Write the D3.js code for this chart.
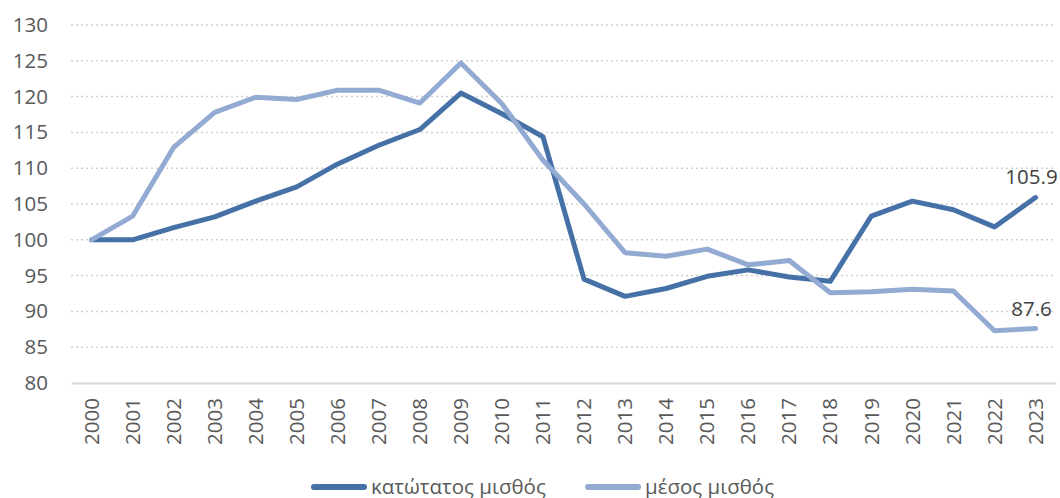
<!doctype html>
<html>
  <head>
    <meta charset="utf-8">
    <script src="https://cdnjs.cloudflare.com/ajax/libs/d3/7.8.5/d3.min.js"></script>
    <style>
      body { margin: 0; background: #fff; }
      svg text { font-family: "Open Sans", "Noto Sans", sans-serif; }
      .tick text { fill: #595959; font-size: 20.5px; }
      line.grid { stroke: #d0d0d0; stroke-width: 1.5; stroke-dasharray: 2 3; }
      path.series { fill: none; stroke-width: 5; stroke-linejoin: round; stroke-linecap: round; }
      text.lbl { fill: #404040; font-size: 20.5px; }
      text.legend { fill: #595959; font-size: 20.5px; }
    </style>
  </head>
  <body>
    <svg width="1060" height="498"></svg>
    <script>
      var years = ["2000","2001","2002","2003","2004","2005","2006","2007","2008","2009","2010","2011",
                   "2012","2013","2014","2015","2016","2017","2018","2019","2020","2021","2022","2023"];
      var minWage = [100, 100, 101.7, 103.2, 105.4, 107.4, 110.6, 113.2, 115.4, 120.5, 117.6, 114.4,
                     94.5, 92.1, 93.2, 94.9, 95.8, 94.8, 94.2, 103.3, 105.4, 104.2, 101.8, 105.9];
      var avgWage = [100, 103.3, 112.9, 117.8, 119.9, 119.6, 120.9, 120.9, 119.1, 124.7, 119.0, 111.1,
                     105.0, 98.2, 97.7, 98.7, 96.5, 97.1, 92.6, 92.75, 93.1, 92.85, 87.3, 87.6];
      var yTicks = [80, 85, 90, 95, 100, 105, 110, 115, 120, 125, 130];
      var seriesNames = ["κατώτατος μισθός", "μέσος μισθός"];
      var colors = ["#4571a7", "#93aad3"];

      var svg = d3.select("svg");
      var plotLeft = 71, plotRight = 1056, plotTop = 25, plotBottom = 383;

      var x = d3.scaleBand().domain(years).range([plotLeft, plotRight]);
      var y = d3.scaleLinear().domain([80, 130]).range([plotBottom, plotTop]);

      // gridlines
      svg.selectAll("line.grid").data(yTicks.slice(1))
        .enter().append("line")
          .attr("class", "grid")
          .attr("x1", plotLeft).attr("x2", plotRight)
          .attr("y1", d => y(d)).attr("y2", d => y(d));

      // y axis
      var yAxis = svg.append("g")
        .attr("transform", "translate(" + (plotLeft - 20) + ",0)")
        .call(d3.axisLeft(y).tickValues(yTicks).tickSize(0).tickPadding(3));
      yAxis.select(".domain").remove();

      // x axis
      var xAxis = svg.append("g")
        .attr("transform", "translate(0," + plotBottom + ")")
        .call(d3.axisBottom(x).tickSize(0));
      xAxis.select(".domain").attr("stroke", "#d9d9d9").attr("stroke-width", 2);
      xAxis.selectAll(".tick text")
        .attr("transform", "rotate(-90)")
        .attr("text-anchor", "end")
        .attr("x", -15)
        .attr("y", 0)
        .attr("dy", "0.35em");

      var line = d3.line()
        .x((d, i) => x(years[i]) + x.bandwidth() / 2)
        .y(d => y(d));

      [minWage, avgWage].forEach(function(s, k) {
        svg.append("path")
          .datum(s)
          .attr("class", "series")
          .attr("stroke", colors[k])
          .attr("d", line);
      });

      // end labels
      var last = years.length - 1;
      var cx = x(years[last]) + x.bandwidth() / 2;
      svg.append("text").attr("class", "lbl")
        .attr("x", cx - 4).attr("y", y(minWage[last]) - 14)
        .attr("text-anchor", "middle").text(minWage[last].toFixed(1));
      svg.append("text").attr("class", "lbl")
        .attr("x", cx - 4).attr("y", y(avgWage[last]) - 13)
        .attr("text-anchor", "middle").text(avgWage[last].toFixed(1));

      // legend
      var legendX = [311, 585];
      seriesNames.forEach(function(name, k) {
        svg.append("line")
          .attr("x1", legendX[k] + 3).attr("x2", legendX[k] + 53)
          .attr("y1", 487).attr("y2", 487)
          .attr("stroke", colors[k]).attr("stroke-width", 6)
          .attr("stroke-linecap", "round");
        svg.append("text").attr("class", "legend")
          .attr("x", legendX[k] + 60).attr("y", 494)
          .text(name);
      });
    </script>
  </body>
</html>
